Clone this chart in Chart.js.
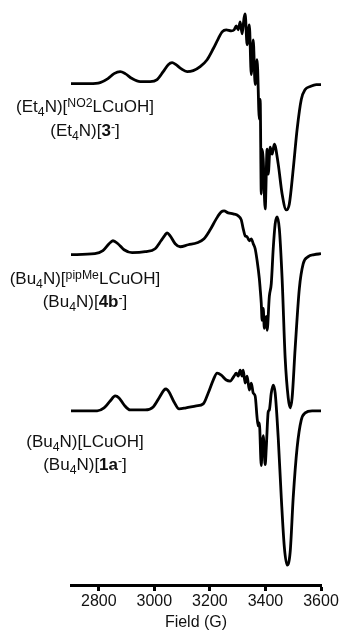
<!DOCTYPE html>
<html>
<head>
<meta charset="utf-8">
<script src="https://cdn.jsdelivr.net/npm/chart.js@4/dist/chart.umd.min.js"></script>
<style>
  html, body { margin: 0; padding: 0; background: #fff; }
  #wrap { position: relative; width: 342px; height: 632px; }
  .lbl { position: absolute; left: 0; width: 170px; text-align: center;
         font-family: "Liberation Sans", Arial, sans-serif; font-size: 17px;
         line-height: 17px; color: #111; white-space: nowrap; }
  .sb { font-size: 0.72em; position: relative; top: 0.3em; }
  .sp { font-size: 0.72em; position: relative; top: -0.45em; }
</style>
</head>
<body>
<div id="wrap">
  <canvas id="c"></canvas>
  <div class="lbl" style="top:98px">(Et<span class="sb">4</span>N)[<span class="sp">NO2</span>LCuOH]</div>
  <div class="lbl" style="top:122px">(Et<span class="sb">4</span>N)[<b>3</b><span class="sp">-</span>]</div>
  <div class="lbl" style="top:270px">(Bu<span class="sb">4</span>N)[<span class="sp">pipMe</span>LCuOH]</div>
  <div class="lbl" style="top:293px">(Bu<span class="sb">4</span>N)[<b>4b</b><span class="sp">-</span>]</div>
  <div class="lbl" style="top:433px">(Bu<span class="sb">4</span>N)[LCuOH]</div>
  <div class="lbl" style="top:456px">(Bu<span class="sb">4</span>N)[<b>1a</b><span class="sp">-</span>]</div>
</div>
<script>
// Field axis ticks (G)
const xTicks = [2800, 3000, 3200, 3400, 3600];

// (Et4N)[NO2LCuOH]  (Et4N)[3-]
const field3 = [2700,2768,2805,2833,2855,2877,2895,2920,2949,2985,3010,3032,3050,3064,3078,3096,3118,3140,3165,3190,3212,3230,3244,3259,3277,3287,3295,3302,3309,3316,3323,3327,3334,3342,3349,3356,3363,3370,3378,3381,3385,3388,3392,3399,3406,3410,3417,3424,3432,3446,3460,3475,3486,3500,3514,3529,3543,3561,3583,3600];
const signal3 = [0,0,1,5,10,12,10,5,2,2,4,12,19,21,19,15,12,13,17,24,35,45,52,54,53,54,58,54,62,50,66,70,39,59,9,44,-1,24,-36,-16,-111,-66,-76,-126,-66,-91,-64,-71,-61,-81,-111,-127,-121,-86,-46,-16,-6,-3,-1,-1];

// (Bu4N)[pipMeLCuOH]  (Bu4N)[4b-]
const field4b = [2700,2786,2815,2837,2851,2869,2891,2920,2967,3003,3024,3039,3046,3057,3075,3093,3122,3154,3179,3201,3223,3241,3251,3266,3284,3302,3313,3320,3327,3334,3342,3349,3356,3363,3370,3378,3381,3385,3388,3392,3396,3403,3406,3414,3421,3428,3435,3442,3450,3460,3471,3482,3489,3496,3507,3522,3536,3554,3576,3600];
const signal4b = [0,1,4,11,14,11,5,2,3,6,14,20,22,19,11,8,10,12,16,25,36,43,44,42,41,39,35,26,19,18,14,16,11,6,-6,-24,-34,-49,-66,-54,-74,-62,-76,-42,-29,6,31,38,26,-24,-104,-144,-154,-144,-94,-34,-9,-2,0,1];

// (Bu4N)[LCuOH]  (Bu4N)[1a-]
const field1a = [2700,2794,2819,2841,2859,2873,2891,2913,2967,2996,3017,3035,3042,3053,3071,3089,3114,3151,3176,3194,3212,3226,3241,3259,3273,3287,3295,3302,3309,3316,3320,3327,3334,3342,3349,3356,3363,3370,3374,3378,3385,3388,3392,3399,3403,3410,3414,3421,3428,3435,3446,3457,3468,3478,3489,3500,3514,3529,3543,3568,3600];
const signal1a = [0,0,3,10,15,13,6,1,1,4,13,21,22,19,9,2,3,5,7,18,31,38,36,31,30,35,38,35,41,35,41,28,35,21,28,18,15,-7,-15,-12,-55,-35,-25,-54,-37,-1,1,18,26,18,-27,-87,-137,-155,-142,-87,-37,-9,-2,0,0];

// vertical stacking offsets of the three traces
const traceOffsets = [504, 332, 175];

function trace(fields, signal, off) {
  return fields.map((f, i) => ({ x: f, y: signal[i] + off }));
}

const lineStyle = {
  borderColor: '#000', borderWidth: 2.8, pointRadius: 0,
  cubicInterpolationMode: 'monotone', fill: false
};

new Chart(document.getElementById('c'), {
  type: 'line',
  data: {
    datasets: [
      Object.assign({ label: '3-', data: trace(field3, signal3, traceOffsets[0]) }, lineStyle),
      Object.assign({ label: '4b-', data: trace(field4b, signal4b, traceOffsets[1]) }, lineStyle),
      Object.assign({ label: '1a-', data: trace(field1a, signal1a, traceOffsets[2]) }, lineStyle)
    ]
  },
  options: {
    responsive: true,
    maintainAspectRatio: false,
    animation: false,
    layout: { padding: { left: 71, right: 21, top: 0, bottom: 1 } },
    plugins: { legend: { display: false }, tooltip: { enabled: false } },
    scales: {
      x: {
        type: 'linear', min: 2700, max: 3600,
        afterBuildTicks: (axis) => { axis.ticks = xTicks.map(v => ({ value: v })); },
        border: { display: true, color: '#000', width: 3 },
        grid: { drawOnChartArea: false, drawTicks: true, tickLength: 6, tickColor: '#000', tickWidth: 3, color: '#000' },
        ticks: { color: '#111', padding: 3, maxRotation: 0, autoSkip: false,
                 font: { family: 'Liberation Sans', size: 16, lineHeight: 1 },
                 callback: (v) => String(v) },
        title: { display: true, text: 'Field (G)', color: '#111',
                 font: { family: 'Liberation Sans', size: 16, lineHeight: 1 },
                 padding: { top: 2, bottom: 0 } }
      },
      y: { display: false, min: 0, max: 588 }
    }
  }
});
</script>
</body>
</html>
